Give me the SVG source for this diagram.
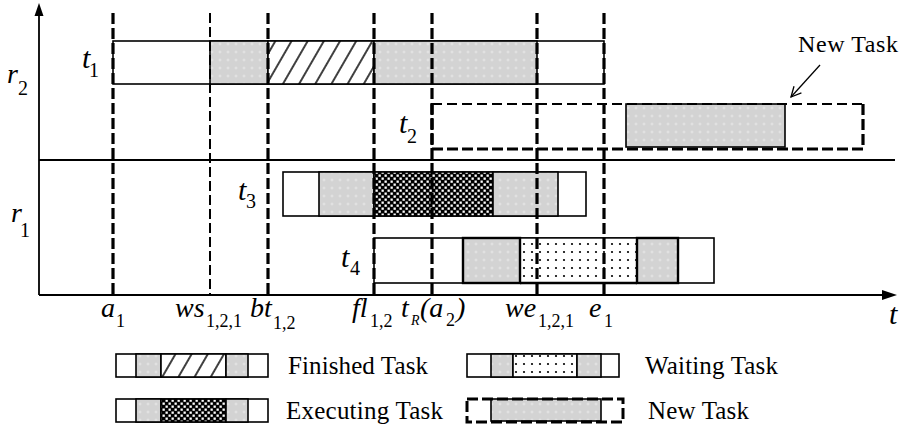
<svg xmlns="http://www.w3.org/2000/svg" width="904" height="429" viewBox="0 0 904 429">
<style>
.ax{stroke:#000;stroke-width:1.8;fill:none}
.box{stroke:#000;stroke-width:1.6}
.thk{stroke:#000;stroke-width:3.2;stroke-dasharray:11 4;fill:none}
.thn{stroke:#000;stroke-width:2;stroke-dasharray:10 4;fill:none}
.lab{font-family:"Liberation Serif",serif;font-style:italic;font-size:28px}
.sub{font-family:"Liberation Serif",serif;font-style:normal;font-size:18px}
.rl{font-family:"Liberation Serif",serif;font-style:italic;font-size:30px}
.rs{font-family:"Liberation Serif",serif;font-style:normal;font-size:20px}
.leg{font-family:"Liberation Serif",serif;font-size:25px}
</style>
<defs>
<pattern id="gray" width="8" height="8" patternUnits="userSpaceOnUse">
<rect width="8" height="8" fill="#d3d3d3"/>
<path d="M4 2.5v3M2.5 4h3" stroke="#e6e6e6" stroke-width="1"/>
</pattern>
<pattern id="hatch" width="14" height="10" patternUnits="userSpaceOnUse" patternTransform="rotate(30)">
<rect width="14" height="10" fill="#fff"/>
<line x1="7" y1="0" x2="7" y2="10" stroke="#000" stroke-width="1.5"/>
</pattern>
<pattern id="check" width="6" height="6" patternUnits="userSpaceOnUse">
<rect width="6" height="6" fill="#000"/>
<rect x="0.5" y="0.5" width="2.3" height="2.3" fill="#fff"/>
<rect x="3.5" y="3.5" width="2.3" height="2.3" fill="#fff"/>
</pattern>
<pattern id="dots" width="8" height="8" patternUnits="userSpaceOnUse">
<rect width="8" height="8" fill="#fff"/>
<circle cx="4" cy="4" r="1.1" fill="#000"/>
</pattern>
<marker id="open" viewBox="0 0 12 12" refX="11" refY="6" markerWidth="12" markerHeight="12" markerUnits="userSpaceOnUse" orient="auto">
<path d="M1 1L11 6L1 11" fill="none" stroke="#000" stroke-width="1.3"/>
</marker>
</defs>
<rect width="904" height="429" fill="#fff"/>

<g id="axes">
<line class="ax" x1="39" y1="295" x2="39" y2="14"/>
<polygon points="39,3 34.5,16 43.5,16" fill="#000"/>
<line class="ax" x1="39" y1="295" x2="884" y2="295"/>
<polygon points="897,295 882,290 882,300" fill="#000"/>
<line class="ax" x1="39" y1="160" x2="895" y2="160"/>
<text class="rl" x="7" y="83" style="font-size:28px">r</text><text class="rs" x="18" y="95">2</text>
<text class="rl" x="11" y="222" style="font-size:28px">r</text><text class="rs" x="20" y="237">1</text>
<text class="rl" x="889" y="324">t</text>
</g>

<g id="task-t1">
<rect class="box" x="113" y="41" width="491" height="43" fill="#fff"/>
<rect class="box" x="210" y="41" width="58" height="43" fill="url(#gray)"/>
<rect class="box" x="268" y="41" width="106" height="43" fill="url(#hatch)"/>
<rect class="box" x="374" y="41" width="163" height="43" fill="url(#gray)"/>
<text class="rl" x="82" y="68">t</text><text class="rs" x="89" y="77">1</text>
</g>

<g id="task-t2">
<rect x="432" y="104" width="431" height="45" fill="#fff"/>
<rect class="box" x="626" y="104" width="159" height="43" fill="url(#gray)"/>
<line x1="432" y1="104" x2="863" y2="104" stroke="#000" stroke-width="2" stroke-dasharray="10 5"/>
<path class="thk" d="M432 104V149H863V104"/>
<text class="rl" x="399" y="133">t</text><text class="rs" x="407" y="143">2</text>
</g>

<g id="task-t3">
<rect class="box" x="283" y="172" width="303" height="44" fill="#fff"/>
<rect class="box" x="319" y="172" width="55" height="44" fill="url(#gray)"/>
<rect class="box" x="374" y="172" width="119" height="44" fill="url(#check)"/>
<rect class="box" x="493" y="172" width="65" height="44" fill="url(#gray)"/>
<text class="rl" x="238" y="200">t</text><text class="rs" x="246" y="208">3</text>
</g>

<g id="task-t4">
<rect class="box" x="374" y="238" width="340" height="45" fill="#fff"/>
<rect x="520" y="238" width="117" height="45" fill="url(#dots)" stroke="#000" stroke-width="1.4"/>
<rect x="463" y="238" width="57" height="45" fill="url(#gray)" stroke="#000" stroke-width="2.4"/>
<rect x="637" y="238" width="41" height="45" fill="url(#gray)" stroke="#000" stroke-width="2.4"/>
<line x1="520" y1="283" x2="637" y2="283" stroke="#000" stroke-width="2.4"/>
<text class="rl" x="341" y="267">t</text><text class="rs" x="350" y="275">4</text>
</g>

<g id="connectors">
<line class="thk" x1="113" y1="13" x2="113" y2="295"/>
<line class="thn" x1="210" y1="13" x2="210" y2="295"/>
<line class="thk" x1="268" y1="13" x2="268" y2="295"/>
<line class="thk" x1="374" y1="13" x2="374" y2="295"/>
<line class="thk" x1="432" y1="13" x2="432" y2="295"/>
<line class="thk" x1="537" y1="13" x2="537" y2="295"/>
<line class="thk" x1="604" y1="13" x2="604" y2="295"/>
<line x1="820" y1="65" x2="791" y2="97" stroke="#000" stroke-width="1.3" marker-end="url(#open)"/>
</g>

<g id="new-task-label">
<text class="leg" x="798" y="52" textLength="100" style="font-size:24px">New Task</text>
</g>

<g id="time-labels">
<text class="lab" x="101" y="317">a<tspan class="sub" x="116" y="327">1</tspan></text>
<text class="lab" x="175" y="317">ws<tspan class="sub" x="206" y="327">1,2,1</tspan></text>
<text class="lab" x="250" y="317">bt<tspan class="sub" x="273" y="329">1,2</tspan></text>
<text class="lab" x="352" y="317">fl<tspan class="sub" x="370" y="327">1,2</tspan></text>
<text class="lab" x="401" y="317">t<tspan class="sub" x="411" y="325" style="font-style:italic;font-size:14px">R</tspan><tspan x="420" y="317">(a</tspan><tspan class="sub" x="446" y="326">2</tspan><tspan x="456" y="317">)</tspan></text>
<text class="lab" x="505" y="317">we<tspan class="sub" x="538" y="327">1,2,1</tspan></text>
<text class="lab" x="589" y="317">e<tspan class="sub" x="604" y="327">1</tspan></text>
</g>

<g id="legend-finished">
<rect class="box" x="116" y="354" width="152" height="23" fill="#fff"/>
<rect class="box" x="136" y="354" width="25" height="23" fill="url(#gray)"/>
<rect class="box" x="161" y="354" width="65" height="23" fill="url(#hatch)"/>
<rect class="box" x="226" y="354" width="22" height="23" fill="url(#gray)"/>
<text class="leg" x="288" y="374" textLength="140">Finished Task</text>
</g>
<g id="legend-executing">
<rect class="box" x="116" y="399" width="152" height="23" fill="#fff"/>
<rect class="box" x="136" y="399" width="25" height="23" fill="url(#gray)"/>
<rect class="box" x="161" y="399" width="65" height="23" fill="url(#check)"/>
<rect class="box" x="226" y="399" width="22" height="23" fill="url(#gray)"/>
<text class="leg" x="286" y="419" textLength="157">Executing Task</text>
</g>
<g id="legend-waiting">
<rect class="box" x="467" y="354" width="152" height="23" fill="#fff"/>
<rect class="box" x="491" y="354" width="22" height="23" fill="url(#gray)"/>
<rect class="box" x="513" y="354" width="64" height="23" fill="url(#dots)"/>
<rect class="box" x="577" y="354" width="24" height="23" fill="url(#gray)"/>
<text class="leg" x="645" y="374" textLength="133">Waiting Task</text>
</g>
<g id="legend-new">
<rect class="box" x="491" y="399" width="110" height="22" fill="url(#gray)"/>
<rect x="467" y="399" width="156" height="23" fill="none" stroke="#000" stroke-width="3" stroke-dasharray="11 4"/>
<text class="leg" x="648" y="419" textLength="101">New Task</text>
</g>
</svg>
